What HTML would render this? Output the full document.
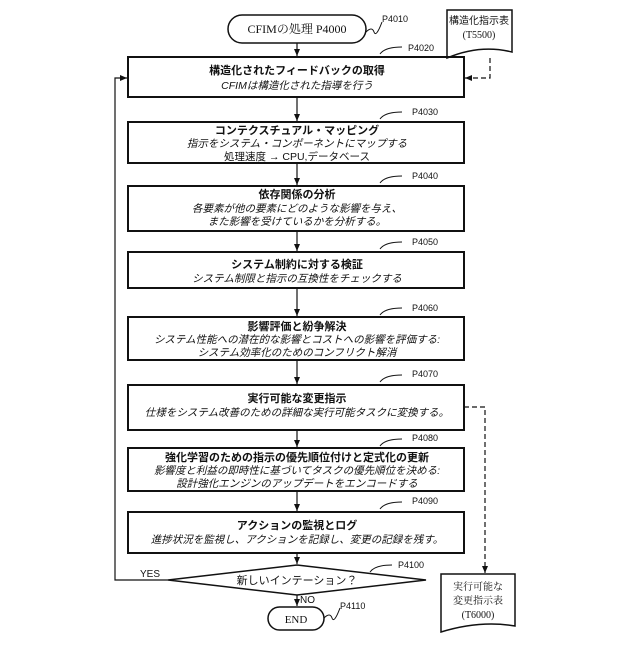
<!DOCTYPE html>
<html><head><meta charset="utf-8"><style>
body{margin:0;background:#fff}
svg text{font-family:"Liberation Sans","Noto Sans CJK JP",sans-serif;fill:#111}
.b{font-weight:bold;font-size:11px}
.i{font-style:italic;font-size:10.5px}
.s{font-family:"Liberation Serif","Noto Serif CJK SC",serif !important}
.p{font-size:9px}
</style></head><body>
<svg width="640" height="640" viewBox="0 0 640 640" xmlns="http://www.w3.org/2000/svg">
<defs><marker id="a" markerWidth="8" markerHeight="8" refX="7" refY="4" orient="auto" markerUnits="userSpaceOnUse"><path d="M0,1 L7,4 L0,7z" fill="#111"/></marker></defs>
<g fill="none" stroke="#111" stroke-width="1.5">
<rect x="228" y="15" width="138" height="28" rx="14" fill="#fff"/>
<path d="M447,10 H512 V52 Q480,44 447,58 Z" fill="#fff"/>
<rect x="128" y="57" width="336" height="40" stroke-width="2"/>
<rect x="128" y="122" width="336" height="41" stroke-width="2"/>
<rect x="128" y="186" width="336" height="45" stroke-width="2"/>
<rect x="128" y="252" width="336" height="36" stroke-width="2"/>
<rect x="128" y="317" width="336" height="43" stroke-width="2"/>
<rect x="128" y="385" width="336" height="45" stroke-width="2"/>
<rect x="128" y="448" width="336" height="43" stroke-width="2"/>
<rect x="128" y="512" width="336" height="41" stroke-width="2"/>
<path d="M168,580 L297,565 L426,580 L297,595 Z"/>
<rect x="268" y="607" width="56" height="23" rx="11.5"/>
<path d="M441,574 H515 V626 Q480,620 441,632 Z"/>
<g marker-end="url(#a)" stroke-width="1.2">
<line x1="297" y1="43" x2="297" y2="56"/>
<line x1="297" y1="97" x2="297" y2="121"/>
<line x1="297" y1="163" x2="297" y2="185"/>
<line x1="297" y1="231" x2="297" y2="251"/>
<line x1="297" y1="288" x2="297" y2="316"/>
<line x1="297" y1="360" x2="297" y2="384"/>
<line x1="297" y1="430" x2="297" y2="447"/>
<line x1="297" y1="491" x2="297" y2="511"/>
<line x1="297" y1="553" x2="297" y2="564"/>
<line x1="297" y1="595" x2="297" y2="606"/>
<polyline points="168,580 115,580 115,78 127,78"/>
<polyline points="490,58 490,78 465,78" stroke-dasharray="5,3"/>
<polyline points="464,407 485,407 485,573" stroke-dasharray="5,3"/>
</g>
<g stroke-width="1">
<path d="M366,32 q6,-6 8,0 t8,-10"/>
<path d="M380,54 q5,-7 22,-7"/>
<path d="M380,119 q5,-7 22,-7"/>
<path d="M380,183 q5,-7 22,-7"/>
<path d="M380,249 q5,-7 22,-7"/>
<path d="M380,315 q5,-7 22,-7"/>
<path d="M380,382 q5,-7 22,-7"/>
<path d="M380,446 q5,-7 22,-7"/>
<path d="M380,509 q5,-7 22,-7"/>
<path d="M370,572 q5,-7 22,-7"/>
<path d="M324,618 q6,-6 8,0 t8,-10"/>
</g>
</g>
<text x="297" y="33" text-anchor="middle" class="s" font-size="12">CFIMの処理 P4000</text>
<text x="479" y="24" text-anchor="middle" font-size="10">構造化指示表</text>
<text x="479" y="38" text-anchor="middle" class="s" font-size="10">(T5500)</text>
<g class="p"><text x="382" y="22">P4010</text><text x="408" y="51">P4020</text><text x="412" y="115">P4030</text><text x="412" y="179">P4040</text><text x="412" y="245">P4050</text><text x="412" y="311">P4060</text><text x="412" y="377">P4070</text><text x="412" y="441">P4080</text><text x="412" y="504">P4090</text><text x="398" y="568">P4100</text><text x="340" y="609">P4110</text></g>
<g text-anchor="middle">
<text x="297" y="74" class="b">構造化されたフィードバックの取得</text>
<text x="297" y="89" class="i">CFIMは構造化された指導を行う</text>
<text x="297" y="134" class="b">コンテクスチュアル・マッピング</text>
<text x="297" y="147" class="i">指示をシステム・コンポーネントにマップする</text>
<text x="297" y="160" font-size="10.5">処理速度 → CPU,データベース</text>
<text x="297" y="198" class="b">依存関係の分析</text>
<text x="297" y="212" class="i">各要素が他の要素にどのような影響を与え、</text>
<text x="297" y="225" class="i">また影響を受けているかを分析する。</text>
<text x="297" y="268" class="b">システム制約に対する検証</text>
<text x="297" y="282" class="i">システム制限と指示の互換性をチェックする</text>
<text x="297" y="330" class="b">影響評価と紛争解決</text>
<text x="297" y="343" class="i">システム性能への潜在的な影響とコストへの影響を評価する:</text>
<text x="297" y="356" class="i">システム効率化のためのコンフリクト解消</text>
<text x="297" y="402" class="b">実行可能な変更指示</text>
<text x="297" y="416" class="i">仕様をシステム改善のための詳細な実行可能タスクに変換する。</text>
<text x="297" y="461" class="b">強化学習のための指示の優先順位付けと定式化の更新</text>
<text x="297" y="474" class="i">影響度と利益の即時性に基づいてタスクの優先順位を決める:</text>
<text x="297" y="487" class="i">設計強化エンジンのアップデートをエンコードする</text>
<text x="297" y="529" class="b">アクションの監視とログ</text>
<text x="297" y="543" class="i">進捗状況を監視し、アクションを記録し、変更の記録を残す。</text>
<text x="297" y="584" font-size="11">新しいインテーション？</text>
<text x="296" y="623" class="s" font-size="11">END</text>
<text x="478" y="590" class="s" font-size="10">実行可能な</text>
<text x="478" y="604" class="s" font-size="10">変更指示表</text>
<text x="478" y="618" class="s" font-size="10">(T6000)</text>
</g>
<text x="140" y="577" font-size="10">YES</text>
<text x="300" y="603" font-size="10">NO</text>
</svg>
</body></html>
